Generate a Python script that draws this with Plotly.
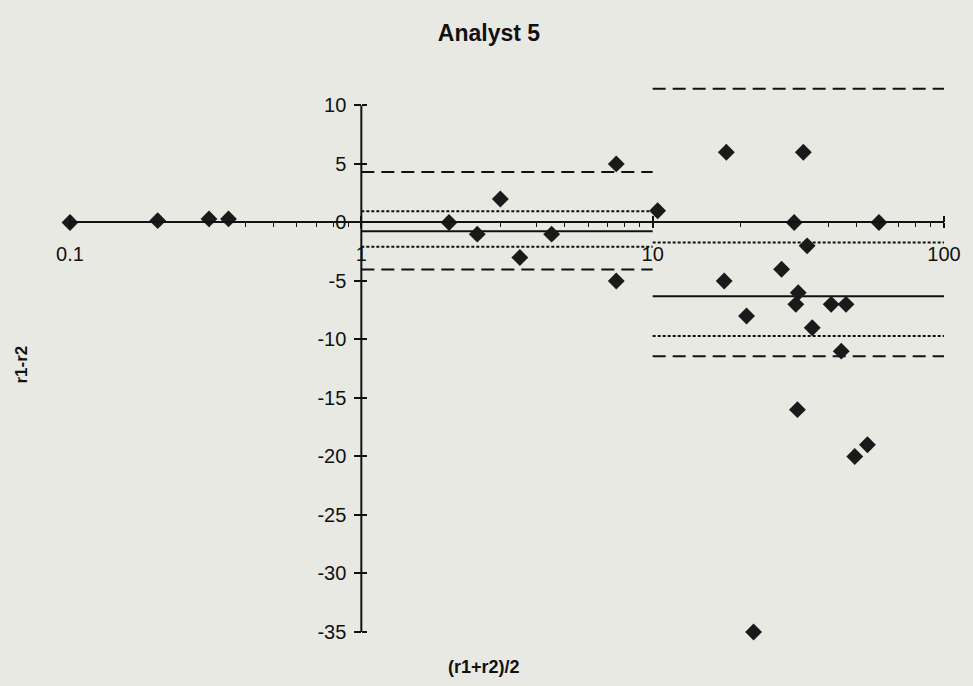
import plotly.graph_objects as go

# Paired results: mean of replicates vs. difference of replicates
mean_r = [0.1, 0.2, 0.3, 0.35, 2.0, 2.5, 3.0, 3.5, 4.5, 7.5, 7.5, 10.4,
          17.9, 32.9, 30.6, 59.8, 33.9, 27.7, 17.6, 31.6, 31.0, 41.0, 46.1,
          21.0, 35.3, 44.4, 31.4, 54.6, 49.4, 22.2]
diff_r = [0, 0.15, 0.3, 0.3, 0, -1, 2, -3, -1, 5, -5, 1,
          6, 6, 0, 0, -2, -4, -5, -6, -7, -7, -7,
          -8, -9, -11, -16, -19, -20, -35]

# Concentration ranges with their summary lines
range_start = [1, 10]
range_end = [10, 100]
mean_line = [-0.76, -6.31]
inner_upper = [0.95, -1.72]
inner_lower = [-2.07, -9.70]
outer_upper = [4.30, 11.43]
outer_lower = [-4.03, -11.43]

x_ticks = [0.1, 1, 10, 100]
x_tick_text = ["0.1", "1", "10", "100"]
x_minor = [m * d for d in (0.1, 1, 10) for m in range(2, 10)]
y_ticks = [-35, -30, -25, -20, -15, -10, -5, 0, 5, 10]
y_tick_text = [str(v) for v in y_ticks]   # plain hyphen minus

Y_MIN, Y_MAX = -35, 12
FONT = "Liberation Sans, Arial, sans-serif"
INK = "#111111"
BG = "#e9e9e4"

W, H = 973, 686
ML, MR, MT, MB = 70, 19, 82, 54
PW, PH = W - ML - MR, H - MT - MB

fig = go.Figure()

def band(values, dash, width):
    for x0, x1, v in zip(range_start, range_end, values):
        fig.add_trace(go.Scatter(
            x=[x0, x1], y=[v, v], mode="lines",
            line=dict(color=INK, width=width, dash=dash),
            hoverinfo="skip", showlegend=False))

band(outer_upper, "13px,7px", 2)
band(outer_lower, "13px,7px", 2)
band(inner_upper, "3px,2px", 2)
band(inner_lower, "3px,2px", 2)
band(mean_line, "solid", 2)

# vertical axis line at x = 1, from -35 up to 10
fig.add_trace(go.Scatter(
    x=[1, 1], y=[y_ticks[0], y_ticks[-1]], mode="lines",
    line=dict(color=INK, width=2), hoverinfo="skip", showlegend=False))

fig.add_trace(go.Scatter(
    x=mean_r, y=diff_r, mode="markers", cliponaxis=False,
    marker=dict(symbol="diamond", size=13, color="#1a1a1a",
                line=dict(width=0)),
    showlegend=False))

# transparent copies bound to the mirror axes so their ticks get drawn
fig.add_trace(go.Scatter(x=mean_r, y=diff_r, xaxis="x2", yaxis="y",
                         mode="markers", marker=dict(opacity=0),
                         showlegend=False, hoverinfo="skip"))
fig.add_trace(go.Scatter(x=mean_r, y=diff_r, xaxis="x", yaxis="y2",
                         mode="markers", marker=dict(opacity=0),
                         showlegend=False, hoverinfo="skip"))

x_pos = (0 - Y_MIN) / (Y_MAX - Y_MIN)   # x axis sits at y = 0
y_pos = (0 - (-1)) / 3                  # y axis sits at x = 1 on log range

fig.update_layout(
    width=W, height=H,
    margin=dict(l=ML, r=MR, t=MT, b=MB),
    paper_bgcolor=BG, plot_bgcolor=BG,
    font=dict(family=FONT, size=20, color=INK),
    title=dict(text="<b>Analyst 5</b>", x=489 / W, xref="container",
               xanchor="center", y=1 - 33 / H, yref="container",
               yanchor="middle", font=dict(size=23, color=INK)),
    xaxis=dict(type="log", range=[-1, 2], anchor="free", position=x_pos,
               showgrid=False, zeroline=False, showline=True,
               linecolor=INK, linewidth=2,
               tickmode="array", tickvals=x_ticks, ticktext=x_tick_text,
               ticks="outside", ticklen=5, tickwidth=1.5, tickcolor=INK,
               ticklabelstandoff=9,
               minor=dict(tickmode="array", tickvals=x_minor,
                          ticks="outside", ticklen=4, tickwidth=1,
                          tickcolor=INK, showgrid=False)),
    yaxis=dict(range=[Y_MIN, Y_MAX], anchor="free", position=y_pos,
               showgrid=False, zeroline=False, showline=False,
               tickmode="array", tickvals=y_ticks, ticktext=y_tick_text,
               ticks="outside", ticklen=7, tickwidth=1.5, tickcolor=INK,
               ticklabelstandoff=4),
    # mirror axes: the upper / right halves of the crossing ticks
    xaxis2=dict(type="log", range=[-1, 2], overlaying="x", side="top",
                anchor="free", position=x_pos, showgrid=False,
                zeroline=False, showline=False, tickmode="array",
                tickvals=x_ticks, ticks="outside", ticklen=6,
                tickwidth=1.5, tickcolor=INK, showticklabels=False),
    yaxis2=dict(range=[Y_MIN, Y_MAX], overlaying="y", side="right",
                anchor="free", position=y_pos, showgrid=False,
                zeroline=False, showline=False, tickmode="array",
                tickvals=y_ticks, ticks="outside", ticklen=5,
                tickwidth=1.5, tickcolor=INK, showticklabels=False),
    annotations=[
        dict(text="<b>(r1+r2)/2</b>",
             x=(489 - ML) / PW, y=(H - MB - 667) / PH,
             xref="paper", yref="paper", xanchor="center", yanchor="middle",
             showarrow=False, font=dict(size=18)),
        dict(text="<b>r1-r2</b>", textangle=-90,
             x=(20 - ML) / PW, y=(H - MB - 365) / PH,
             xref="paper", yref="paper", xanchor="center", yanchor="middle",
             showarrow=False, font=dict(size=17)),
    ],
)

fig.write_html("out.html")
